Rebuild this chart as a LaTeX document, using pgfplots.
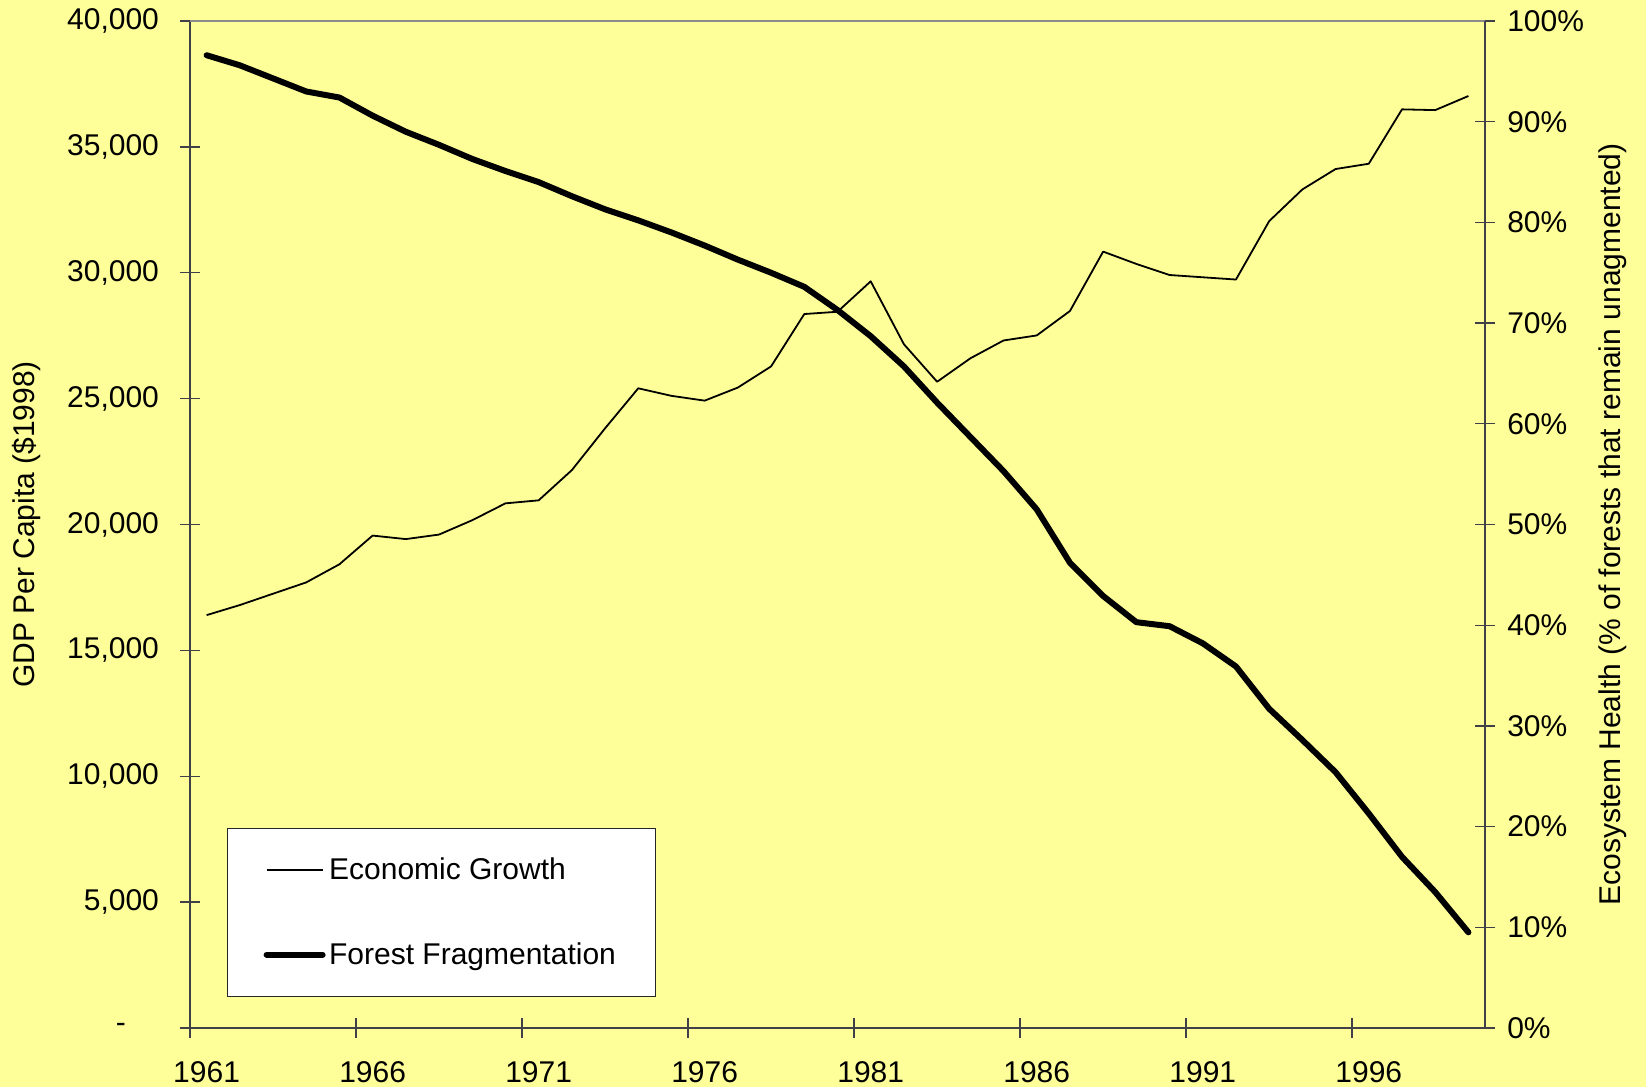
\documentclass[border=0pt]{standalone}
\usepackage{fontspec}
\setmainfont{Liberation Sans}
\usepackage{pgfplots}
\pgfplotsset{compat=1.18}
\usetikzlibrary{calc,backgrounds}
\definecolor{bgyellow}{HTML}{FFFF99}
\definecolor{axisgray}{HTML}{404048}
\definecolor{bordergray}{HTML}{8C8C8C}
\newcommand{\chartfont}{\fontsize{15}{18}\selectfont}

% GDP per capita, $1998
\pgfplotstableread{
year gdp
1961 16400
1962 16800
1963 17250
1964 17700
1965 18420
1966 19560
1967 19420
1968 19600
1969 20170
1970 20840
1971 20960
1972 22160
1973 23820
1974 25410
1975 25110
1976 24920
1977 25440
1978 26280
1979 28360
1980 28450
1981 29660
1982 27160
1983 25670
1984 26600
1985 27310
1986 27510
1987 28480
1988 30840
1989 30350
1990 29910
1991 29820
1992 29730
1993 32050
1994 33310
1995 34120
1996 34330
1997 36490
1998 36460
1999 37020
}\gdptable

% share of forests that remain unfragmented, percent
\pgfplotstableread{
year forest
1961 96.6
1962 95.6
1963 94.3
1964 93.0
1965 92.4
1966 90.6
1967 89.0
1968 87.7
1969 86.3
1970 85.1
1971 84.0
1972 82.6
1973 81.3
1974 80.2
1975 79.0
1976 77.7
1977 76.3
1978 75.0
1979 73.6
1980 71.3
1981 68.7
1982 65.7
1983 62.1
1984 58.7
1985 55.3
1986 51.5
1987 46.2
1988 42.9
1989 40.3
1990 39.9
1991 38.2
1992 35.9
1993 31.7
1994 28.6
1995 25.4
1996 21.3
1997 17.0
1998 13.5
1999 9.5
}\foresttable

\pgfplotsset{
  common/.style={
    scale only axis,
    width=647.5pt, height=503.5pt,
    xmin=1960.5, xmax=1999.5,
    tick align=center,
    major tick length=10pt,
    tick style={axisgray, line width=0.7pt},
    tick label style={font=\chartfont, black},
    label style={font=\chartfont},
    axis line style={axisgray, line width=0.9pt},
    clip=false,
  },
}

\begin{document}
\begin{tikzpicture}[font=\chartfont]
\begin{axis}[
  common,
  axis x line*=bottom,
  axis y line*=left,
  ymin=0, ymax=40000,
  ytick={0,5000,...,40000},
  yticklabels={{-\rule{16.5pt}{0pt}},{5,000},{10,000},{15,000},{20,000},{25,000},{30,000},{35,000},{40,000}},
  yticklabel style={xshift=-7pt},
  xtick={1960.5,1965.5,...,1995.5},
  xticklabels={1961,1966,1971,1976,1981,1986,1991,1996},
  xticklabel style={xshift=8.3pt, yshift=-8pt},
  ylabel={GDP Per Capita (\$1998)},
  ylabel style={at={(axis description cs:-0.1259,0.5)}, anchor=center},
]
\coordinate (sw) at (rel axis cs:0,0);
\coordinate (ne) at (rel axis cs:1,1);
\addplot[black, line width=0.9pt, line join=round] table[x=year, y=gdp] {\gdptable};
\end{axis}

\begin{axis}[
  common,
  axis x line*=top,
  x axis line style={bordergray, line width=0.9pt},
  xtick=\empty,
  axis y line*=right,
  ymin=0, ymax=100,
  ytick={0,10,...,100},
  yticklabels={0\%,10\%,20\%,30\%,40\%,50\%,60\%,70\%,80\%,90\%,100\%},
  yticklabel style={xshift=2.6pt},
  ylabel={Ecosystem Health (\% of forests that remain unagmented)},
  ylabel style={at={(axis description cs:1.0988,0.5)}, anchor=center},
  legend image code/.code={\draw[#1] (0pt,0pt) -- (28pt,0pt);},
  legend cell align=left,
  legend style={
    at={(axis description cs:0.0286,0.1986)}, anchor=north west,
    draw=black!85, line width=0.6pt, fill=white,
    font=\chartfont,
    inner xsep=18pt, inner ysep=14.5pt, row sep=30pt,
    nodes={inner xsep=1.75pt, inner ysep=0pt},
  },
]
\addlegendimage{black, line width=0.9pt}
\addlegendentry{Economic Growth}
\addplot[black, line width=3pt, line cap=round, line join=round] table[x=year, y=forest] {\foresttable};
\addlegendentry{Forest Fragmentation}
\end{axis}

\pgfresetboundingbox
\begin{pgfonlayer}{background}
\fill[bgyellow] ($(sw)+(-95pt,-29.5pt)$) rectangle ($(ne)+(80.5pt,10.5pt)$);
\end{pgfonlayer}
\useasboundingbox ($(sw)+(-95pt,-29.5pt)$) rectangle ($(ne)+(80.5pt,10.5pt)$);
\end{tikzpicture}
\end{document}
